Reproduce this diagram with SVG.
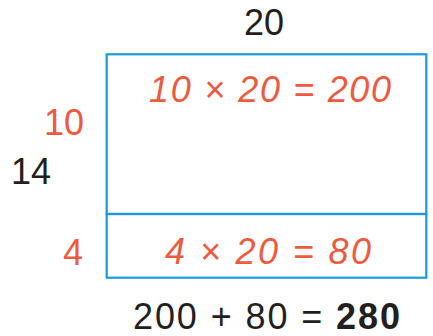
<svg xmlns="http://www.w3.org/2000/svg" width="433" height="336" viewBox="0 0 433 336">
<style>
text{font-family:"Liberation Sans",Arial,sans-serif;font-size:36px}
.r{fill:#ef5a3e}
.k{fill:#231f20}
.i{font-style:italic}
.box{fill:none;stroke:#1a9ad8;stroke-width:2.2}
</style>
<rect width="433" height="336" fill="#fff"/>
<g id="top-label"><text class="k" x="264" y="35" text-anchor="middle">20</text></g>
<g id="box-top">
<rect class="box" x="106.7" y="54.3" width="319.6" height="159.7"/>
<text class="r i" x="149" y="102" textLength="242" lengthAdjust="spacing">10 × 20 = 200</text>
</g>
<g id="box-bottom">
<rect class="box" x="106.7" y="214" width="319.6" height="63.7"/>
<text class="r i" x="165" y="264" textLength="206" lengthAdjust="spacing">4 × 20 = 80</text>
</g>
<g id="side-labels">
<text class="r" x="84" y="135" text-anchor="end">10</text>
<text class="k" x="51" y="184" text-anchor="end">14</text>
<text class="r" x="83" y="265" text-anchor="end">4</text>
</g>
<g id="sum"><text class="k" x="133" y="329" textLength="267" lengthAdjust="spacing">200 + 80 = <tspan font-weight="bold">280</tspan></text></g>
</svg>
